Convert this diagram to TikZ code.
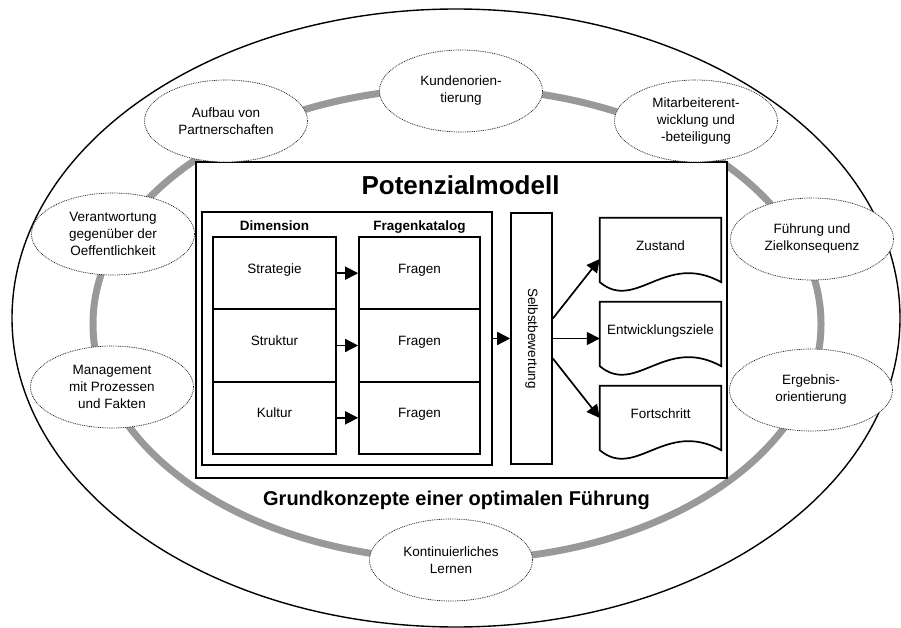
\documentclass[tikz,border=0pt]{standalone}
\usepackage{fontspec}
\setmainfont{Liberation Sans}
\usetikzlibrary{arrows.meta,shapes.geometric,calc}

\begin{document}
\begin{tikzpicture}[x=1pt,y=-1pt,
  txt/.style={font=\fontsize{13.5}{17}\selectfont},
  bubble/.style={ellipse, draw=black!85, dash pattern=on 0.9pt off 0.9pt, line width=0.75pt,
    fill=white, minimum width=163pt, minimum height=82pt, inner sep=0pt, align=center, txt},
  cell/.style={draw, line width=1.7pt, inner sep=0pt, text height=10pt, text depth=10pt, txt},
  doc/.style={inner sep=0pt, minimum width=121pt, minimum height=64pt,
    text height=10pt, text depth=10pt, txt},
  arr/.style={line width=1.7pt, -{Triangle[length=13pt,width=13pt]}},
  ring/.style={draw=black!40, line width=7pt},
  hdr/.style={anchor=base, font=\bfseries\fontsize{13.5}{16}\selectfont},
]
\useasboundingbox (0,0) rectangle (901,628);

% outer boundary and grey ring of concepts
\draw[line width=1.4pt] (456,318) ellipse [x radius=444pt, y radius=309pt];
\draw[ring] (457,324) ellipse [x radius=364pt, y radius=236pt];

% central model frame
\node[draw, line width=2.2pt, fill=white, minimum width=531pt, minimum height=316pt, inner sep=0pt]
  (main) at (461.5,320) {};
\node[anchor=base, font=\bfseries\fontsize{26}{30}\selectfont] (title) at (460.5,195) {Potenzialmodell};
\node[anchor=base, font=\bfseries\fontsize{20}{24}\selectfont] (grund) at (456.5,505)
  {Grundkonzepte einer optimalen Führung};

% concept bubbles
\node[bubble] (kunden) at (461,91)  {Kundenorien-\\tierung};
\node[bubble] (aufbau) at (226,121) {Aufbau von\\Partnerschaften};
\node[bubble] (mitarb) at (696,121) {Mitarbeiterent-\\wicklung und\\-beteiligung};
\node[bubble] (verant) at (113,234) {Verantwortung\\gegenüber der\\Oeffentlichkeit};
\node[bubble] (fuehr)  at (812,239) {Führung und\\Zielkonsequenz};
\node[bubble] (manag)  at (112,387) {Management\\mit Prozessen\\und Fakten};
\node[bubble] (ergeb)  at (811,390) {Ergebnis-\\orientierung};
\node[bubble] (lernen) at (451,560) {Kontinuierliches\\Lernen};

% dimensions and question catalogue
\node[draw, line width=1.7pt, minimum width=290pt, minimum height=253pt, inner sep=0pt]
  (frame) at (347,338.5) {};
\node[cell, minimum width=123pt, minimum height=72.33pt] (d1) at (274.5,273.17) {Strategie};
\node[cell, minimum width=123pt, minimum height=72.33pt] (d2) at (274.5,345.5)  {Struktur};
\node[cell, minimum width=123pt, minimum height=72.33pt] (d3) at (274.5,417.83) {Kultur};
\node[cell, minimum width=121pt, minimum height=72.33pt] (f1) at (419.5,273.17) {Fragen};
\node[cell, minimum width=121pt, minimum height=72.33pt] (f2) at (419.5,345.5)  {Fragen};
\node[cell, minimum width=121pt, minimum height=72.33pt] (f3) at (419.5,417.83) {Fragen};
\node[hdr] (hdim) at ($(d1.north)+(0,-5.3)$) {Dimension};
\node[hdr] (hfra) at ($(f1.north)+(0,-5.3)$) {Fragenkatalog};

\draw[arr] (d1) -- (f1);
\draw[arr] (d2) -- (f2);
\draw[arr] (d3) -- (f3);

% self assessment
\node[draw, line width=1.7pt, minimum width=41pt, minimum height=251pt, inner sep=0pt, txt]
  (selbst) at (531.5,338.5) {\rotatebox{-90}{Selbstbewertung}};
\draw[arr] (frame.east) -- (selbst.west);

% result documents
\node[doc] (zust) at (660.5,250) {Zustand};
\node[doc] (entw) at (660.5,334) {Entwicklungsziele};
\node[doc] (fort) at (660.5,418) {Fortschritt};
\foreach \d in {zust,entw,fort} {
  \draw[line width=1.7pt, line join=miter] (\d.south west) -- (\d.north west) -- (\d.north east) -- (\d.south east)
    .. controls ($(\d.south east)+(-56,-31)$) and ($(\d.south west)+(36,30)$) .. (\d.south west) -- cycle;
}

\draw[arr] ($(selbst.east)+(0,-20)$) -- ($(zust.west)+(0,9)$);
\draw[arr] (selbst.east) -- (entw.west |- selbst.east);
\draw[arr] ($(selbst.east)+(0,20)$) -- (fort.west);
\end{tikzpicture}
\end{document}
